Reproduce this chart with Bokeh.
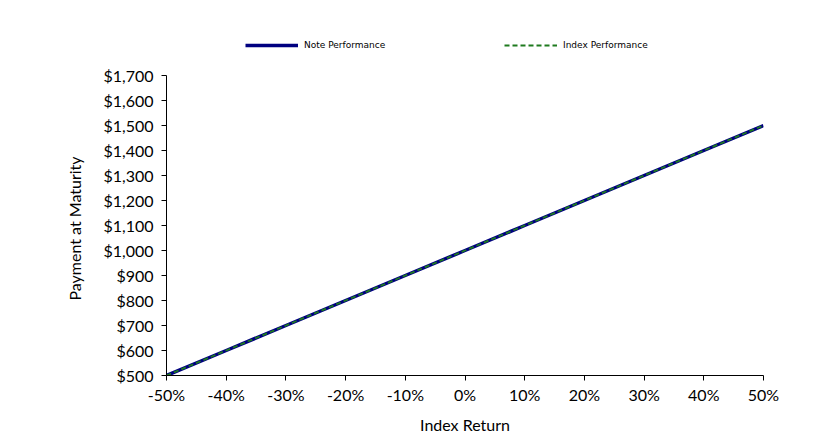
from bokeh.plotting import figure
from bokeh.models import Range1d, NumeralTickFormatter, PrintfTickFormatter, Legend, LegendItem, FixedTicker, Title
from bokeh.embed import file_html
from bokeh.resources import INLINE

index_return = [-50, -40, -30, -20, -10, 0, 10, 20, 30, 40, 50]
note_payment = [500, 600, 700, 800, 900, 1000, 1100, 1200, 1300, 1400, 1500]
index_payment = [500, 600, 700, 800, 900, 1000, 1100, 1200, 1300, 1400, 1500]
y_ticks = [500, 600, 700, 800, 900, 1000, 1100, 1200, 1300, 1400, 1500, 1600, 1700]
x_ticks = [-50, -40, -30, -20, -10, 0, 10, 20, 30, 40, 50]

FONT = "Lato"

# frame extends 50px above the $1,700 line to host the legend (4 units per px)
p = figure(width=818, height=438, output_backend="svg", toolbar_location=None,
           x_range=Range1d(-50, 50), y_range=Range1d(500, 1900),
           min_border_left=166, min_border_right=55, min_border_top=25, min_border_bottom=63)
p.outline_line_color = None
p.xgrid.visible = False
p.ygrid.visible = False

r1 = p.line(index_return, note_payment, line_color="#000080", line_width=3.5)
r2 = p.line(index_return, index_payment, line_color="#1e7a1e", line_width=1.8, line_dash="5 3")

for ax in (p.xaxis[0], p.yaxis[0]):
    ax.axis_line_color = "black"
    ax.axis_line_width = 1
    ax.major_tick_line_color = "black"
    ax.major_tick_out = 5
    ax.major_tick_in = 0
    ax.minor_tick_line_color = None
    ax.major_label_text_font = FONT
    ax.major_label_text_font_size = "16px"
    ax.major_label_text_color = "black"
    ax.axis_label_text_font = FONT
    ax.axis_label_text_font_size = "16px"
    ax.axis_label_text_font_style = "normal"
    ax.axis_label_text_color = "black"

p.yaxis.bounds = (500, 1700)
p.xaxis.ticker = FixedTicker(ticks=x_ticks)
p.yaxis.ticker = FixedTicker(ticks=y_ticks)
p.xaxis.formatter = PrintfTickFormatter(format="%d%%")
p.yaxis.formatter = NumeralTickFormatter(format="$0,0")
p.xaxis.axis_label = "Index Return"
p.xaxis.major_label_standoff = 4
p.yaxis.major_label_standoff = 8
p.xaxis.axis_label_standoff = 8

ytitle = Title(text="Payment at Maturity", align="left", offset=75, standoff=34,
               text_font=FONT, text_font_size="16px", text_font_style="normal", text_color="black")
p.add_layout(ytitle, "left")

legend = Legend(items=[LegendItem(label="Note Performance", renderers=[r1]),
                       LegendItem(label="Index Performance", renderers=[r2])],
                orientation="horizontal", location=(79, 324),
                glyph_width=53, glyph_height=12, label_standoff=6, label_width=100, spacing=100,
                label_text_font="DejaVu Sans", label_text_font_size="9px", label_text_color="black",
                border_line_color=None, background_fill_alpha=0, padding=2, margin=0)
p.add_layout(legend, "center")

open("out.html", "w").write(file_html(p, INLINE))
